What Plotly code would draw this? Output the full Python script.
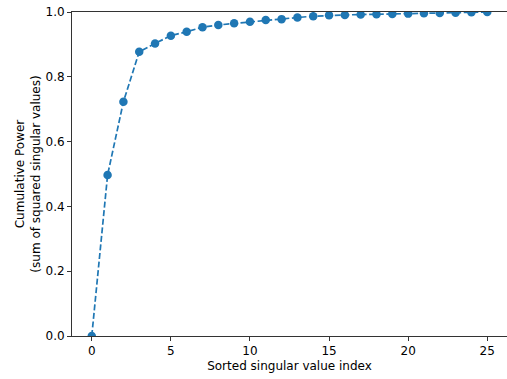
import plotly.graph_objects as go

idx = list(range(26))
cum_power = [0.0, 0.497, 0.723, 0.877, 0.903, 0.927, 0.939, 0.953, 0.960, 0.965,
             0.970, 0.975, 0.978, 0.983, 0.987, 0.990, 0.991, 0.992, 0.993, 0.994,
             0.995, 0.996, 0.997, 0.998, 0.999, 1.0]
x_ticks = [0, 5, 10, 15, 20, 25]
y_ticks = [0.0, 0.2, 0.4, 0.6, 0.8, 1.0]

blue = "#1f77b4"
fig = go.Figure()
fig.add_trace(go.Scatter(
    x=idx, y=cum_power, mode="lines+markers",
    line=dict(color=blue, width=1.7, dash="6px,2.6px"),
    marker=dict(color=blue, size=8.5, symbol="circle"),
    cliponaxis=True, showlegend=False,
))

axis_common = dict(
    showgrid=False, zeroline=False, showline=True, linecolor="#333", linewidth=1,
    ticks="outside", ticklen=4, tickwidth=1, tickcolor="#333", mirror=True,
    tickfont=dict(family="DejaVu Sans", size=12, color="#000"),
)
fig.update_layout(
    width=507, height=379,
    margin=dict(l=72, r=0, t=12, b=43),
    paper_bgcolor="white", plot_bgcolor="white",
    font=dict(family="DejaVu Sans", size=12, color="#000"),
    xaxis=dict(range=[-1.25, 26.25], tickvals=x_ticks,
               title=dict(text="Sorted singular value index", standoff=4,
                          font=dict(family="DejaVu Sans", size=12)),
               **axis_common),
    yaxis=dict(range=[0, 1], tickvals=y_ticks, tickformat=".1f",
               title=dict(text="Cumulative Power<br>(sum of squared singular values)", standoff=2,
                          font=dict(family="DejaVu Sans", size=12)),
               **axis_common),
)
fig.write_html("out.html", config={"displayModeBar": False},
               post_script="document.body.style.margin='0';document.body.style.overflow='hidden';")
